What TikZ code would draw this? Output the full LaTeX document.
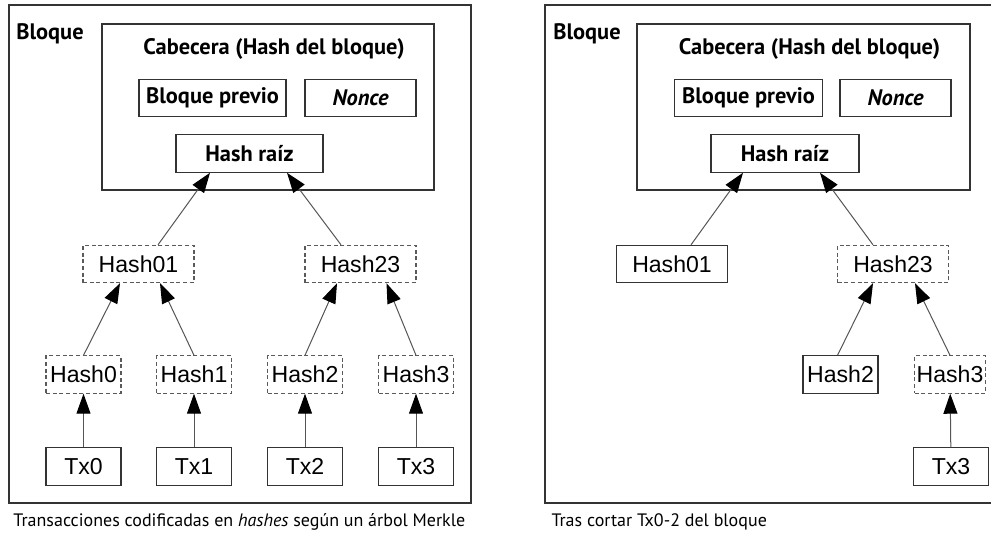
\documentclass[tikz,border=0pt]{standalone}
\usepackage{fontspec}
\setmainfont{PT Sans}
\newfontfamily\arialfont{Liberation Sans}
\usetikzlibrary{arrows.meta,calc}

\tikzset{every picture/.style={line width=0.75pt}}
\tikzset{
  panel/.style={draw={rgb, 255:red, 51; green, 51; blue, 51 }, line width=1pt},
  headbox/.style={draw={rgb, 255:red, 51; green, 51; blue, 51 }, line width=0.9pt, inner sep=0pt, minimum height=28pt, font=\fontsize{16.8}{20}\selectfont\bfseries},
  hashbox/.style={draw={rgb, 255:red, 51; green, 51; blue, 51 }, line width=0.8pt, inner sep=0pt, minimum width=56.25pt, minimum height=28pt, font=\arialfont\fontsize{17.3}{20}\selectfont},
  dashbox/.style={hashbox, draw={rgb, 255:red, 90; green, 90; blue, 90 }, dash pattern=on 3pt off 2pt},
  lbl/.style={inner sep=0pt, font=\fontsize{16.8}{20}\selectfont\bfseries},
  caption/.style={inner sep=0pt, anchor=west, font=\fontsize{13.5}{16}\selectfont},
  link/.style={draw={rgb, 255:red, 85; green, 85; blue, 85 }, line width=0.75pt, -{Triangle[length=15pt, width=10.5pt, color=black]}}
}

\begin{document}
\begin{tikzpicture}[x=0.75pt,y=0.75pt,yscale=-1,xscale=1]
    \useasboundingbox (0,0) rectangle (991,533);

    % ---- left: full Merkle tree ----
    %Shape: Rectangle
    \draw [panel] (9,5) rectangle (471,503);
    % Text Node
    \node [lbl] (blqA) at (50,34) {Bloque};
    %Shape: Rectangle
    \node [headbox, minimum width=249pt, minimum height=124.5pt] (cabA) at (268,107) {};
    % Text Node
    \node [lbl] (titA) at (274,49) {Cabecera (Hash del bloque)};
    \node [headbox, minimum width=110.25pt] (prevA) at (212.5,98) {Bloque previo};
    \node [headbox, minimum width=83.25pt] (nonceA) at (360.5,98) {\itshape Nonce};
    \node [headbox, minimum width=110.25pt] (raizA) at (249.5,153.5) {Hash raíz};

    \node [dashbox, minimum width=83.25pt] (hAzu) at (138.5,264) {Hash01};
    \node [dashbox, minimum width=83.25pt] (hAdt) at (360.5,264) {Hash23};
    \node [dashbox] (hA0) at (83.5,374.5) {Hash0};
    \node [dashbox] (hA1) at (194,374.5) {Hash1};
    \node [dashbox] (hA2) at (305,374.5) {Hash2};
    \node [dashbox] (hA3) at (416,374.5) {Hash3};
    \node [hashbox] (txA0) at (83.5,466.5) {Tx0};
    \node [hashbox] (txA1) at (194,466.5) {Tx1};
    \node [hashbox] (txA2) at (305,466.5) {Tx2};
    \node [hashbox] (txA3) at (416,466.5) {Tx3};

    %Straight Lines
    \draw [link] ($(hAzu.north)+(19.5,0)$) -- ($(raizA.south)+(-39.5,0)$);
    \draw [link] ($(hAdt.north)+(-19.5,0)$) -- ($(raizA.south)+(37.5,0)$);
    \draw [link] (hA0.north) -- ($(hAzu.south)+(-18.5,0)$);
    \draw [link] (hA1.north) -- ($(hAzu.south)+(21.5,0)$);
    \draw [link] (hA2.north) -- ($(hAdt.south)+(-23.5,0)$);
    \draw [link] (hA3.north) -- ($(hAdt.south)+(26,0)$);
    \draw [link] (txA0) -- (hA0);
    \draw [link] (txA1) -- (hA1);
    \draw [link] (txA2) -- (hA2);
    \draw [link] (txA3) -- (hA3);

    % Text Node
    \node [caption] (capA) at (13,522) {Transacciones codificadas en \textit{hashes} según un árbol Merkle};

    % ---- right: pruned tree ----
    %Shape: Rectangle (right side runs off the picture)
    \draw [panel] (991,5) -- (545,5) -- (545,503) -- (991,503);
    % Text Node
    \node [lbl] (blqB) at (587,34) {Bloque};
    %Shape: Rectangle
    \node [headbox, minimum width=249.75pt, minimum height=124.5pt] (cabB) at (803.5,107) {};
    % Text Node
    \node [lbl] (titB) at (809.5,49) {Cabecera (Hash del bloque)};
    \node [headbox, minimum width=111pt] (prevB) at (748.5,98) {Bloque previo};
    \node [headbox, minimum width=83.25pt] (nonceB) at (895.5,98) {\itshape Nonce};
    \node [headbox, minimum width=111pt] (raizB) at (785,153.5) {Hash raíz};

    \node [hashbox, minimum width=83.25pt] (hBzu) at (672,264) {Hash01};
    \node [dashbox, minimum width=83.25pt] (hBdt) at (893,264) {Hash23};
    \node [hashbox] (hB2) at (840.5,374.5) {Hash2};
    \node [dashbox, minimum width=53pt] (hB3) at (950,374.5) {Hash3};
    \node [hashbox] (txB3) at (951,466.5) {Tx3};

    %Straight Lines
    \draw [link] ($(hBzu.north)+(19,0)$) -- ($(raizB.south)+(-42,0)$);
    \draw [link] ($(hBdt.north)+(-20,0)$) -- ($(raizB.south)+(35,0)$);
    \draw [link] ($(hB2.north)+(-3,0)$) -- ($(hBdt.south)+(-20,0)$);
    \draw [link] (hB3.north) -- ($(hBdt.south)+(22,0)$);
    \draw [link] (txB3) -- (hB3);

    % Text Node
    \node [caption] (capB) at (551,522) {Tras cortar Tx0-2 del bloque};

\end{tikzpicture}
\end{document}
